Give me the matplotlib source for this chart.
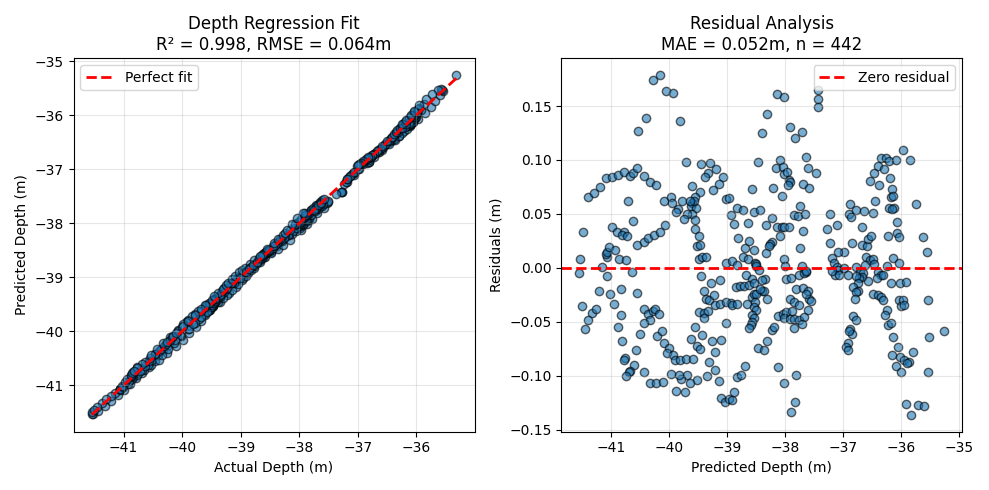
import numpy as np
import matplotlib
matplotlib.use("Agg")
import matplotlib.pyplot as plt

# (predicted depth [m], residual [m]), region by region
pts_far_left_top = [
    (-41.47, 0.0335), (-41.39, 0.0655), (-41.29, 0.0693), (-41.18, 0.0753), (-41.08, 0.0833),
    (-40.97, 0.0844), (-40.87, 0.0862), (-40.77, 0.0892), (-40.66, 0.0853), (-40.62, 0.0883),
    (-40.55, 0.0930), (-40.71, 0.0622), (-40.62, 0.0436), (-40.97, 0.0379), (-40.89, 0.0332),
    (-40.78, 0.0335), (-40.81, 0.0305), (-40.72, 0.0293), (-40.54, 0.0207), (-40.43, 0.0237),
    (-40.35, 0.0278), (-40.25, 0.0308), (-40.53, 0.1271), (-40.40, 0.1393), (-40.28, 0.1742),
    (-40.43, 0.0853), (-40.32, 0.0800), (-40.22, 0.0770),
]
pts_far_left_bottom = [
    (-41.53, 0.0080), (-41.54, -0.0047), (-41.15, 0.0003), (-41.06, -0.0080), (-41.07, 0.0098),
    (-41.08, 0.0127), (-41.07, 0.0151), (-41.03, 0.0190), (-40.92, 0.0169), (-40.85, 0.0080),
    (-40.73, 0.0074), (-40.64, -0.0036), (-41.20, -0.0216), (-41.01, -0.0240), (-40.83, -0.0198),
    (-40.55, -0.0234), (-40.94, -0.0338), (-41.50, -0.0356), (-41.33, -0.0415), (-41.26, -0.0379),
    (-41.40, -0.0480), (-41.45, -0.0569), (-40.83, -0.0438), (-40.88, -0.0545), (-40.81, -0.0676),
    (-40.42, -0.0385), (-40.36, -0.0427), (-40.32, -0.0480), (-40.27, -0.0397), (-40.42, -0.0516),
    (-40.49, -0.0616), (-40.24, -0.0382), (-40.56, -0.0761), (-40.76, -0.0836), (-40.77, -0.0853),
    (-40.60, -0.0904), (-40.67, -0.0954), (-40.68, -0.0969), (-40.73, -0.1001), (-40.43, -0.0963),
    (-40.32, -0.1073), (-40.22, -0.1067),
]
pts_mid_top = [
    (-40.16, 0.1787), (-40.04, 0.1644), (-39.93, 0.1618), (-39.81, 0.1360), (-39.70, 0.0978),
    (-39.45, 0.0960), (-39.29, 0.0975), (-39.33, 0.0880), (-39.38, 0.0844), (-39.18, 0.0913),
    (-39.06, 0.0844), (-39.13, 0.0776), (-39.23, 0.0726), (-39.60, 0.0756), (-39.46, 0.0699),
    (-39.54, 0.0661), (-39.60, 0.0601), (-39.62, 0.0572), (-39.53, 0.0557), (-39.56, 0.0616),
    (-39.60, 0.0498), (-39.68, 0.0498), (-39.55, 0.0439), (-39.55, 0.0364), (-39.48, 0.0299),
    (-39.51, 0.0201), (-39.46, 0.0210), (-40.08, 0.0622), (-39.96, 0.0652), (-39.95, 0.0601),
    (-39.77, 0.0622), (-39.84, 0.0545), (-39.87, 0.0518), (-39.73, 0.0453), (-39.64, 0.0616),
    (-39.02, 0.0634), (-38.97, 0.0649), (-40.07, 0.0400), (-40.16, 0.0335), (-38.92, 0.0489),
    (-38.87, 0.0409), (-38.83, 0.0551), (-38.72, 0.0533), (-38.80, 0.0276), (-38.69, 0.0181),
    (-38.62, 0.0246), (-38.53, 0.0166), (-38.63, 0.0418), (-38.54, 0.0518), (-38.43, 0.0533),
    (-38.56, 0.0735), (-38.47, 0.0978), (-38.40, 0.1250), (-38.31, 0.1428), (-38.13, 0.1609),
    (-38.02, 0.1588), (-37.92, 0.1304), (-37.82, 0.1200), (-37.71, 0.1262), (-38.09, 0.0996),
    (-38.15, 0.0930), (-38.03, 0.0936), (-38.02, 0.0874), (-37.96, 0.0889), (-37.93, 0.0818),
    (-37.92, 0.0794), (-37.94, 0.0770), (-38.20, 0.0744), (-38.05, 0.0664), (-37.69, 0.0773),
    (-37.63, 0.1031), (-37.60, 0.0921), (-37.59, 0.0741), (-37.74, 0.0575), (-37.85, 0.0486),
    (-37.78, 0.0477), (-37.65, 0.0495), (-38.33, 0.0397), (-38.22, 0.0462), (-38.14, 0.0379),
    (-38.05, 0.0379), (-38.01, 0.0379), (-37.93, 0.0379), (-38.09, 0.0291), (-38.22, 0.0237),
    (-38.26, 0.0216), (-38.28, 0.0201), (-37.68, 0.0338), (-37.74, 0.0187), (-38.32, 0.0136),
]
pts_mid_bottom = [
    (-39.48, 0.0083), (-39.42, 0.0098), (-39.36, 0.0098), (-39.44, -0.0074), (-39.28, -0.0145),
    (-39.11, -0.0116), (-39.40, -0.0213), (-39.36, -0.0293), (-39.31, -0.0302), (-39.22, -0.0249),
    (-39.20, -0.0347), (-39.11, -0.0332), (-39.01, -0.0317), (-38.93, -0.0326), (-38.91, -0.0347),
    (-38.83, -0.0338), (-39.48, -0.0406), (-39.39, -0.0420), (-39.32, -0.0400), (-39.40, -0.0468),
    (-39.01, -0.0516), (-39.55, -0.0545), (-39.62, -0.0664), (-39.52, -0.0723), (-39.47, -0.0753),
    (-39.42, -0.0628), (-39.26, -0.0681), (-39.10, -0.0667), (-39.20, -0.0785), (-39.30, -0.0874),
    (-39.21, -0.0945), (-39.14, -0.1049), (-39.35, -0.1007), (-39.51, -0.1043), (-39.68, -0.0993),
    (-39.63, -0.1064), (-39.79, -0.1034), (-39.83, -0.0993), (-39.97, -0.0984), (-39.87, -0.1147),
    (-39.72, -0.1156), (-40.10, -0.1058), (-40.17, -0.0427), (-40.20, -0.0634), (-40.11, -0.0590),
    (-40.09, -0.0699), (-40.00, -0.0747), (-40.03, -0.0794), (-39.93, -0.0812), (-39.90, -0.0853),
    (-39.81, -0.0856), (-39.70, -0.0844), (-39.59, -0.0844), (-39.10, -0.1212), (-39.03, -0.1241),
    (-38.97, -0.1221), (-38.91, -0.1227), (-38.87, -0.1152), (-38.83, -0.1013), (-38.75, -0.0990),
    (-38.69, -0.0907), (-39.01, 0.0041), (-38.91, 0.0059), (-38.82, 0.0024), (-38.73, 0.0098),
    (-38.64, 0.0083), (-38.52, 0.0047), (-38.50, 0.0033), (-38.49, 0.0018), (-38.45, -0.0021),
    (-38.67, -0.0065), (-38.56, -0.0101), (-38.35, -0.0104), (-38.85, -0.0175), (-38.78, -0.0169),
    (-38.71, -0.0169), (-38.61, -0.0160), (-38.53, -0.0139), (-38.40, -0.0213), (-38.36, -0.0213),
    (-38.40, -0.0110), (-38.65, -0.0332), (-38.57, -0.0273), (-38.54, -0.0243), (-38.52, -0.0317),
    (-38.53, -0.0362), (-38.50, -0.0391), (-38.56, -0.0436), (-38.53, -0.0465), (-38.57, -0.0501),
    (-38.59, -0.0533), (-38.61, -0.0563), (-38.49, -0.0243), (-38.43, -0.0198), (-38.30, -0.0287),
    (-38.47, -0.0747), (-38.36, -0.0761), (-38.30, -0.0679), (-38.22, -0.0575), (-38.19, -0.0545),
    (-38.12, -0.0450), (-38.03, -0.0430), (-38.12, -0.0916), (-38.01, 0.0083), (-37.99, 0.0015),
    (-37.98, -0.0101), (-37.89, -0.0095), (-37.81, -0.0198), (-37.69, -0.0184), (-37.61, -0.0213),
    (-37.58, -0.0287), (-37.92, -0.0287), (-37.84, -0.0317), (-37.76, -0.0341), (-37.64, -0.0243),
    (-37.98, -0.0406), (-37.88, -0.0397), (-38.02, -0.0465), (-37.92, -0.0471), (-37.84, -0.0471),
    (-37.75, -0.0480), (-37.67, -0.0456), (-37.61, -0.0391), (-37.71, -0.0524), (-37.84, -0.0563),
    (-37.71, 0.0018), (-37.64, -0.0041), (-37.75, -0.0065), (-37.67, -0.0050), (-37.63, -0.0030),
    (-37.81, -0.0993), (-38.01, -0.1067), (-37.82, -0.1244), (-37.90, -0.1333),
]
pts_right_top = [
    (-37.43, 0.1647), (-37.43, 0.1564), (-37.43, 0.1490), (-37.46, 0.0880), (-37.23, 0.0498),
    (-37.28, 0.0364), (-37.11, 0.0400), (-37.23, 0.0228), (-36.87, 0.0596), (-36.89, 0.0498),
    (-36.86, 0.0468), (-36.78, 0.0536), (-36.64, 0.0527), (-36.48, 0.0507), (-36.68, 0.0382),
    (-36.84, 0.0231), (-36.68, 0.0207), (-36.59, 0.0201), (-36.56, 0.0267), (-36.51, 0.0296),
    (-36.99, 0.0148), (-37.08, 0.0142), (-36.54, 0.0803), (-36.46, 0.0883), (-36.39, 0.0942),
    (-36.30, 0.0918), (-36.34, 0.1022), (-36.26, 0.1016), (-36.20, 0.0987), (-36.08, 0.0996),
    (-35.97, 0.1093), (-35.85, 0.1002), (-36.38, 0.0764), (-36.19, 0.0833), (-36.16, 0.0735),
    (-36.17, 0.0652), (-36.13, 0.0669), (-36.21, 0.0551), (-36.12, 0.0557), (-36.16, 0.0542),
    (-36.06, 0.0424), (-36.44, 0.0616), (-35.74, 0.0593), (-36.22, 0.0296), (-36.07, 0.0320),
    (-36.03, 0.0284), (-35.62, 0.0284), (-35.56, 0.0148),
]
pts_right_bottom = [
    (-37.19, 0.0089), (-37.15, 0.0044), (-37.11, 0.0009), (-37.08, -0.0021), (-37.13, -0.0065),
    (-37.19, -0.0030), (-37.06, -0.0065), (-36.99, -0.0006), (-36.91, -0.0065), (-36.60, 0.0098),
    (-36.54, 0.0068), (-36.48, 0.0083), (-36.46, 0.0038), (-36.62, 0.0030), (-36.77, 0.0009),
    (-36.71, -0.0036), (-36.65, -0.0050), (-36.67, -0.0089), (-36.72, -0.0095), (-36.77, -0.0080),
    (-36.74, -0.0139), (-36.82, -0.0175), (-36.74, -0.0213), (-36.77, -0.0228), (-36.79, -0.0287),
    (-36.57, -0.0119), (-36.40, -0.0036), (-36.34, -0.0065), (-36.42, -0.0095), (-36.31, -0.0065),
    (-36.48, -0.0243), (-36.40, -0.0249), (-36.35, -0.0267), (-36.31, -0.0302), (-36.24, -0.0391),
    (-36.28, -0.0436), (-36.23, -0.0533), (-36.17, -0.0516), (-36.82, -0.0450), (-36.78, -0.0480),
    (-36.88, -0.0569), (-36.85, -0.0613), (-36.89, -0.0584), (-36.91, -0.0693), (-36.94, -0.0732),
    (-36.92, -0.0761), (-36.24, 0.0018), (-36.14, 0.0089), (-36.03, 0.0047), (-36.17, -0.0139),
    (-36.02, -0.0145), (-35.91, -0.0136), (-36.03, -0.0296), (-35.96, -0.0302), (-36.00, -0.0356),
    (-35.95, -0.0347), (-35.53, -0.0296), (-35.52, -0.0643), (-35.26, -0.0587), (-36.13, -0.0643),
    (-36.05, -0.0732), (-36.16, -0.0812), (-36.01, -0.0827), (-35.95, -0.0853), (-35.87, -0.0871),
    (-35.80, -0.0785), (-35.89, -0.0886), (-36.09, -0.0907), (-36.00, -0.0963), (-35.54, -0.0969),
    (-35.92, -0.1265), (-35.70, -0.1277), (-35.61, -0.1283), (-35.82, -0.1363), (-37.55, -0.0311),
]

all_pts = np.array(pts_far_left_top + pts_far_left_bottom + pts_mid_top + pts_mid_bottom
                   + pts_right_top + pts_right_bottom)
y_pred = all_pts[:, 0]
residuals = all_pts[:, 1]
y_true = y_pred + residuals

fig, (ax1, ax2) = plt.subplots(1, 2, figsize=(9.89, 4.90), dpi=100)

# regression fit
ax1.scatter(y_true, y_pred, alpha=0.6, edgecolors='k')
lo, hi = y_true.min(), y_true.max()
ax1.plot([lo, hi], [lo, hi], 'r--', lw=2, label='Perfect fit')
ax1.set_xlabel('Actual Depth (m)')
ax1.set_ylabel('Predicted Depth (m)')
ax1.set_title('Depth Regression Fit\nR² = 0.998, RMSE = 0.064m')
ax1.legend(loc='upper left')
ax1.grid(True, alpha=0.3)

# residuals
ax2.scatter(y_pred, residuals, alpha=0.6, edgecolors='k')
ax2.axhline(y=0, color='r', linestyle='--', lw=2, label='Zero residual')
ax2.set_xlabel('Predicted Depth (m)')
ax2.set_ylabel('Residuals (m)')
ax2.set_title('Residual Analysis\nMAE = 0.052m, n = 442')
ax2.legend(loc='upper right')
ax2.grid(True, alpha=0.3)

plt.tight_layout()
plt.savefig('out.png', dpi=100)
